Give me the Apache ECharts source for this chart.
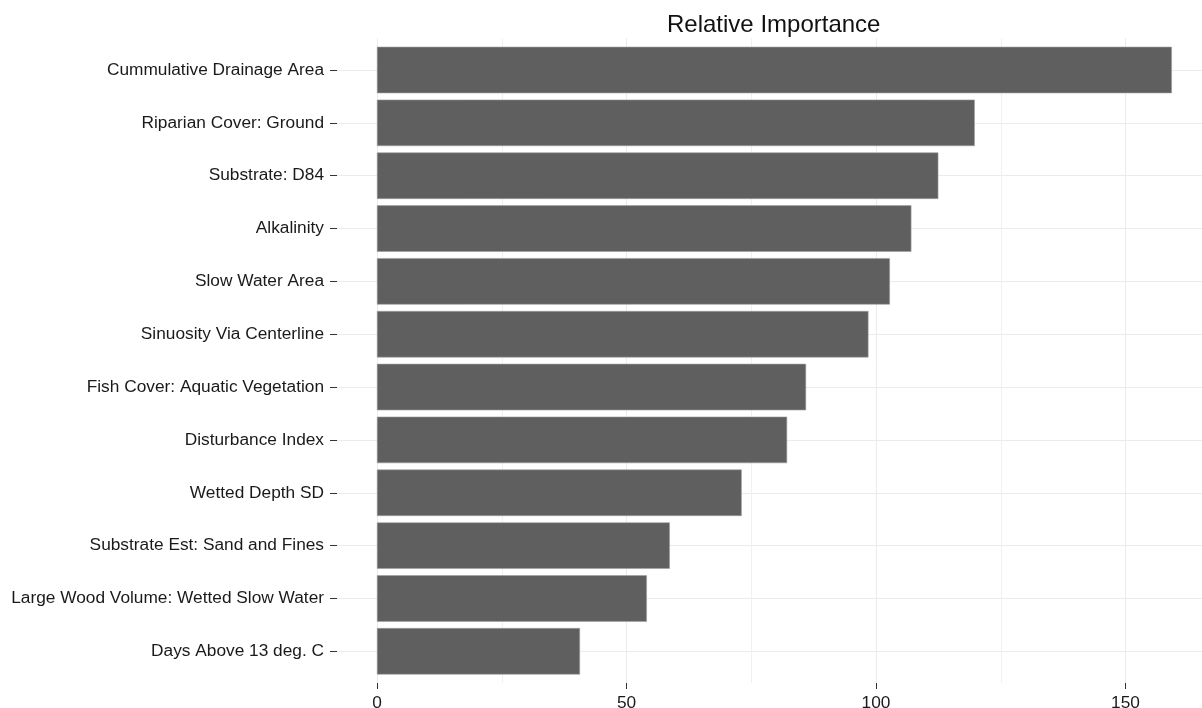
<!DOCTYPE html>
<html>
<head>
<meta charset="utf-8">
<script src="https://cdn.jsdelivr.net/npm/echarts@6/dist/echarts.min.js"></script>
<style>
html,body{margin:0;padding:0;background:#fff;}
#chart{width:1202px;height:708px;}
</style>
</head>
<body>
<div id="chart"></div>
<script>
const categories = [
  "Cummulative Drainage Area",
  "Riparian Cover: Ground",
  "Substrate: D84",
  "Alkalinity",
  "Slow Water Area",
  "Sinuosity Via Centerline",
  "Fish Cover: Aquatic Vegetation",
  "Disturbance Index",
  "Wetted Depth SD",
  "Substrate Est: Sand and Fines",
  "Large Wood Volume: Wetted Slow Water",
  "Days Above 13 deg. C"
];
const importance = [159.3, 119.8, 112.5, 107.1, 102.8, 98.5, 86.0, 82.2, 73.1, 58.7, 54.1, 40.7];
const xTickInterval = 50;
const titleText = "Relative Importance";

const FONT = "'Liberation Sans', Arial, sans-serif";
const chart = echarts.init(document.getElementById('chart'), null, {renderer: 'canvas'});
chart.setOption({
  animation: false,
  backgroundColor: '#ffffff',
  title: {
    text: titleText,
    left: 662,
    top: 8,
    textStyle: {fontFamily: FONT, fontSize: 24, fontWeight: 'normal', color: '#111'}
  },
  grid: [
    {left: 377, width: 998, top: 38.3, height: 644.7, containLabel: false, outerBoundsMode: 'none'},
    {left: 337, width: 1038, top: 70, height: 581.3, containLabel: false, outerBoundsMode: 'none'}
  ],
  xAxis: [
    {
      type: 'value', gridIndex: 0, min: 0, max: 200, interval: xTickInterval,
      axisLine: {show: false, onZero: false},
      axisTick: {show: true, length: 6, lineStyle: {color: '#333', width: 1}},
      axisLabel: {show: true, margin: 12, fontFamily: FONT, fontSize: 17.3, color: '#1a1a1a'},
      splitLine: {show: true, lineStyle: {color: '#ebebeb', width: 1}},
      minorTick: {show: false, splitNumber: 2},
      minorSplitLine: {show: true, lineStyle: {color: '#f0f0f0', width: 1}}
    },
    {
      type: 'value', gridIndex: 1, min: -8, max: 200, show: false,
      axisLine: {onZero: false},
      splitLine: {show: false}
    }
  ],
  yAxis: [
    {type: 'value', gridIndex: 0, min: 0, max: 1, show: false, axisLine: {onZero: false}, splitLine: {show: false}},
    {
      type: 'category', gridIndex: 1, data: categories, inverse: true, boundaryGap: false,
      position: 'left',
      axisLine: {show: false, onZero: false},
      axisTick: {show: true, length: 7, lineStyle: {color: '#333', width: 1}},
      axisLabel: {show: true, margin: 13, fontFamily: FONT, fontSize: 17.3, color: '#1a1a1a', interval: 0},
      splitLine: {show: true, lineStyle: {color: '#ebebeb', width: 1}}
    }
  ],
  series: [{
    type: 'bar',
    xAxisIndex: 1, yAxisIndex: 1,
    data: importance,
    barWidth: '88%',
    clip: false,
    itemStyle: {color: '#5f5f5f', borderColor: '#a0a0a0', borderWidth: 0.6}
  }]
});
</script>
</body>
</html>
